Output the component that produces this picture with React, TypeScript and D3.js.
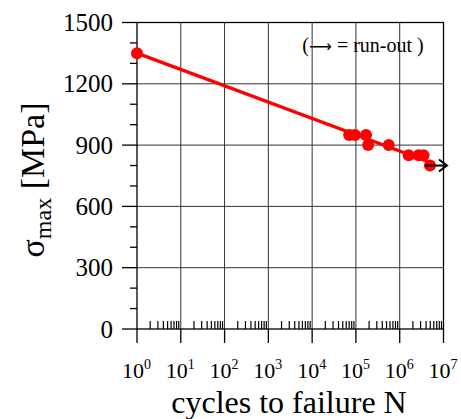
import React from "react";
import * as d3 from "d3";

const cycles = [1, 7.0e4, 9.5e4, 1.7e5, 1.9e5, 5.6e5, 1.6e6, 2.7e6, 3.5e6, 4.9e6];
const stress = [1350, 950, 950, 950, 900, 900, 850, 850, 850, 800];
const runOut = [false, false, false, false, false, false, false, false, false, true];
const fitLineN = [1, 5.0e6];
const fitLineS = [1350, 815];
const runOutArrowEndN = 1.2e7;
const yTicks = [0, 300, 600, 900, 1200, 1500];
const xDecades = [0, 1, 2, 3, 4, 5, 6, 7];

const W = 461, H = 419;
const L = 137, R = 443.5, T = 22.5, B = 329;
const FONT = "'Liberation Serif', 'DejaVu Serif', serif";

export default function App() {
  const x = d3.scaleLog().domain([1, 1e7]).range([L, R]);
  const y = d3.scaleLinear().domain([0, 1500]).range([B, T]);
  const minorY = d3.range(100, 1500, 100).filter((v) => v % 300 !== 0);
  const minorX: number[] = [];
  for (let d = 0; d < 7; d++) for (let k = 2; k <= 9; k++) minorX.push(k * Math.pow(10, d));
  const line = d3.line<number>().x((_, i) => x(fitLineN[i])).y((_, i) => y(fitLineS[i]));

  return (
    <svg width={W} height={H} style={{ position: "absolute", left: 0, top: 0, background: "#fff" }} fontFamily={FONT}>
      {/* grid */}
      {xDecades.slice(1, -1).map((d) => (
        <line key={"gx" + d} x1={x(Math.pow(10, d))} x2={x(Math.pow(10, d))} y1={T} y2={B} stroke="#333" strokeWidth={1} />
      ))}
      {yTicks.slice(1, -1).map((v) => (
        <line key={"gy" + v} x1={L} x2={R} y1={y(v)} y2={y(v)} stroke="#333" strokeWidth={1} />
      ))}
      {/* frame */}
      <rect x={L} y={T} width={R - L} height={B - T} fill="none" stroke="#000" strokeWidth={1.3} />
      {/* y ticks */}
      {yTicks.map((v) => (
        <g key={"yt" + v}>
          <line x1={L - 15} x2={L} y1={y(v)} y2={y(v)} stroke="#000" strokeWidth={1.3} />
          <text x={113} y={y(v)} dy="0.34em" textAnchor="end" fontSize={25}>{v}</text>
        </g>
      ))}
      {minorY.map((v) => (
        <line key={"ym" + v} x1={L - 7} x2={L} y1={y(v)} y2={y(v)} stroke="#000" strokeWidth={1.3} />
      ))}
      {/* x ticks */}
      {xDecades.map((d) => (
        <g key={"xt" + d}>
          <line x1={x(Math.pow(10, d))} x2={x(Math.pow(10, d))} y1={B} y2={B + 14} stroke="#000" strokeWidth={1.3} />
          <text x={x(Math.pow(10, d)) - 15} y={378} fontSize={22}>
            10
            <tspan dy={-9} fontSize={14}>{d}</tspan>
          </text>
        </g>
      ))}
      {minorX.map((v, i) => (
        <line key={"xm" + i} x1={x(v)} x2={x(v)} y1={B} y2={B - 8} stroke="#000" strokeWidth={1.2} />
      ))}
      {/* axis titles */}
      <text x={289} y={413} textAnchor="middle" fontSize={32}>cycles to failure N</text>
      <g transform="translate(44,180) rotate(-90)">
        <text textAnchor="middle" fontSize={34}>
          σ<tspan fontSize={24} dy={7}>max</tspan>
          <tspan dy={-7}>{"  [MPa]"}</tspan>
        </text>
      </g>
      {/* annotation */}
      <text x={363} y={52} textAnchor="middle" fontSize={20}>
        (<tspan fontFamily="'DejaVu Sans', sans-serif" fontSize={16}>⟶</tspan>{" = run-out )"}
      </text>
      {/* fit line */}
      <path d={line(fitLineN) || ""} fill="none" stroke="#ff0000" strokeWidth={3.3} />
      {/* points */}
      {cycles.map((n, i) => (
        <circle key={"p" + i} cx={x(n)} cy={y(stress[i])} r={6} fill="#ff0000" />
      ))}
      {/* run-out arrows */}
      {cycles.map((n, i) =>
        runOut[i] ? (
          <g key={"ro" + i} stroke="#000" strokeWidth={2} fill="none">
            <line x1={x(n) - 5} x2={x(runOutArrowEndN)} y1={y(stress[i])} y2={y(stress[i])} />
            <polyline points={`${x(runOutArrowEndN) - 8},${y(stress[i]) - 6} ${x(runOutArrowEndN)},${y(stress[i])} ${x(runOutArrowEndN) - 8},${y(stress[i]) + 6}`} />
          </g>
        ) : null
      )}
    </svg>
  );
}
